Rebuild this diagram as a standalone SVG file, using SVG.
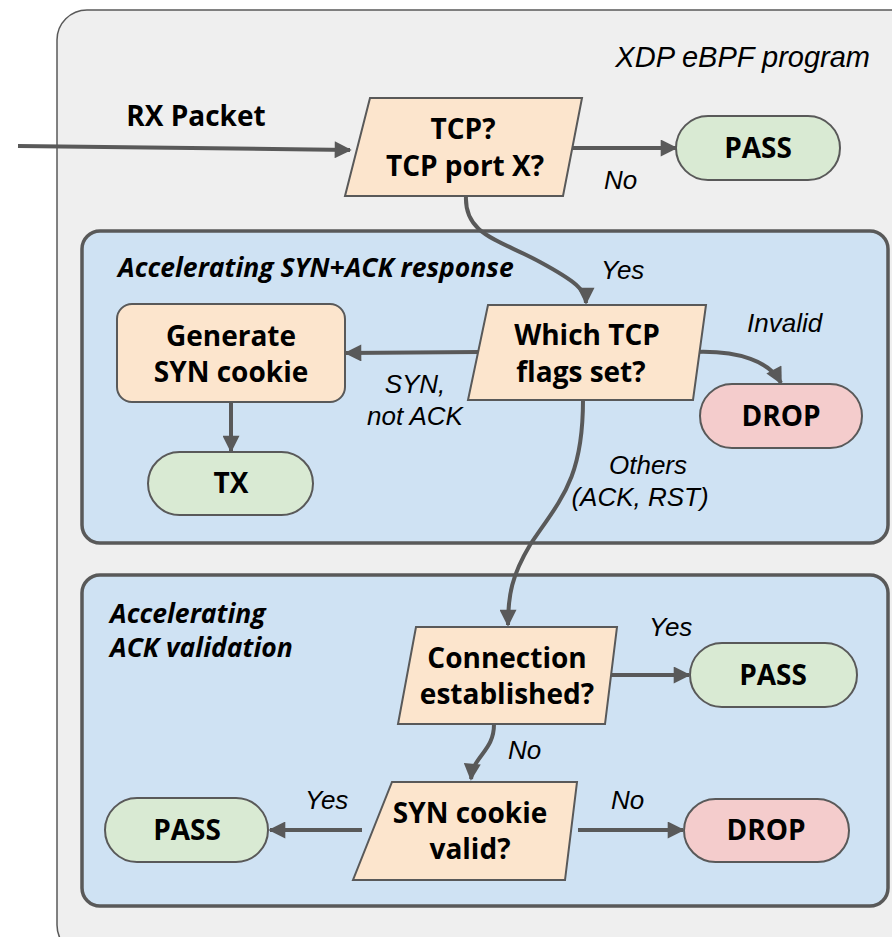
<svg xmlns="http://www.w3.org/2000/svg" width="892" height="937" viewBox="0 0 892 937">
<style>
.b{font-family:"Open Sans","Noto Sans",sans-serif;font-weight:700;font-size:28px;fill:#000;text-anchor:middle}
.i{font-family:"Liberation Sans",Arial,sans-serif;font-style:italic;font-size:26px;fill:#000}
.bi{font-family:"Open Sans","Noto Sans",sans-serif;font-style:italic;font-weight:700;font-size:26.5px;fill:#000}
.dec{fill:#fce5cd;stroke:#595959;stroke-width:2}
.pass{fill:#d9ead3;stroke:#595959;stroke-width:2}
.drop{fill:#f4cccc;stroke:#595959;stroke-width:2}
.grp{fill:#cfe2f3;stroke:#595959;stroke-width:3.5}
.c{fill:none;stroke:#595959;stroke-width:4;marker-end:url(#ah)}
</style>
<defs>
<marker id="ah" viewBox="0 0 10 10" refX="9" refY="5" markerWidth="18" markerHeight="17" markerUnits="userSpaceOnUse" orient="auto">
<path d="M0,0 L10,5 L0,10 z" fill="#595959"/>
</marker>
</defs>
<g id="xdp">
<rect x="57" y="10" width="880" height="945" rx="30" fill="#efefef" stroke="#595959" stroke-width="1.5"/>
<text class="i" x="870" y="67" text-anchor="end" style="font-size:29px">XDP eBPF program</text>
</g>
<g id="grp-synack">
<rect class="grp" x="82" y="231" width="806" height="312" rx="18"/>
<text class="bi" x="118" y="277">Accelerating SYN+ACK response</text>
</g>
<g id="grp-ack">
<rect class="grp" x="82" y="575" width="806" height="331" rx="18"/>
<text class="bi" x="110" y="623">Accelerating</text>
<text class="bi" x="110" y="657">ACK validation</text>
</g>
<g id="connectors">
<path class="c" d="M18,146 L350,150"/>
<text class="b" x="196" y="126">RX Packet</text>
<path class="c" d="M570,148 L676,148"/>
<text class="i" x="604" y="189">No</text>
<path class="c" d="M466,196 C464,235 500,240 540,262 C575,281 586,290 586,303"/>
<text class="i" x="601" y="279">Yes</text>
<path class="c" d="M479,352 L346,353"/>
<text class="i" x="415" y="393" text-anchor="middle">SYN,</text>
<text class="i" x="415" y="425" text-anchor="middle">not ACK</text>
<path class="c" d="M693,352 C740,350 770,362 781,383"/>
<text class="i" x="747" y="332">Invalid</text>
<path class="c" d="M231,402 L231,451"/>
<path class="c" d="M583,400 C583,480 560,500 530,545 C512,575 508,595 508,625"/>
<text class="i" x="648" y="474" text-anchor="middle">Others</text>
<text class="i" x="640" y="506" text-anchor="middle">(ACK, RST)</text>
<path class="c" d="M608,675 L689,675"/>
<text class="i" x="649" y="636">Yes</text>
<path class="c" d="M494,724 C494,752 473,755 471,779"/>
<text class="i" x="508" y="759">No</text>
<path class="c" d="M362,830 L270,830"/>
<text class="i" x="305" y="809">Yes</text>
<path class="c" d="M578,830 L683,830"/>
<text class="i" x="611" y="809">No</text>
</g>
<g id="n-tcp">
<polygon class="dec" points="370,98 582,98 563,196 345,196"/>
<text class="b" x="463" y="139">TCP?</text>
<text class="b" x="465" y="176">TCP port X?</text>
</g>
<g id="n-pass1">
<rect class="pass" x="676" y="116" width="164" height="64" rx="32"/>
<text class="b" x="758" y="158">PASS</text>
</g>
<g id="n-flags">
<polygon class="dec" points="488,305 706,305 693,400 468,400"/>
<text class="b" x="587" y="345">Which TCP</text>
<text class="b" x="581" y="382">flags set?</text>
</g>
<g id="n-gen">
<rect class="dec" x="117" y="304" width="228" height="98" rx="15"/>
<text class="b" x="231" y="346">Generate</text>
<text class="b" x="231" y="382">SYN cookie</text>
</g>
<g id="n-drop1">
<rect class="drop" x="700" y="384" width="162" height="64" rx="32"/>
<text class="b" x="781" y="426">DROP</text>
</g>
<g id="n-tx">
<rect class="pass" x="148" y="452" width="165" height="63" rx="31.5"/>
<text class="b" x="231" y="493">TX</text>
</g>
<g id="n-conn">
<polygon class="dec" points="416,627 617,627 605,724 398,724"/>
<text class="b" x="507" y="668">Connection</text>
<text class="b" x="507" y="704">established?</text>
</g>
<g id="n-pass2">
<rect class="pass" x="690" y="643" width="167" height="64" rx="32"/>
<text class="b" x="773" y="685">PASS</text>
</g>
<g id="n-cookie">
<polygon class="dec" points="392,782 577,782 565,880 353,880"/>
<text class="b" x="470" y="823">SYN cookie</text>
<text class="b" x="470" y="859">valid?</text>
</g>
<g id="n-pass3">
<rect class="pass" x="105" y="798" width="163" height="64" rx="32"/>
<text class="b" x="187" y="840">PASS</text>
</g>
<g id="n-drop2">
<rect class="drop" x="684" y="799" width="165" height="63" rx="31.5"/>
<text class="b" x="766" y="840">DROP</text>
</g>
</svg>
